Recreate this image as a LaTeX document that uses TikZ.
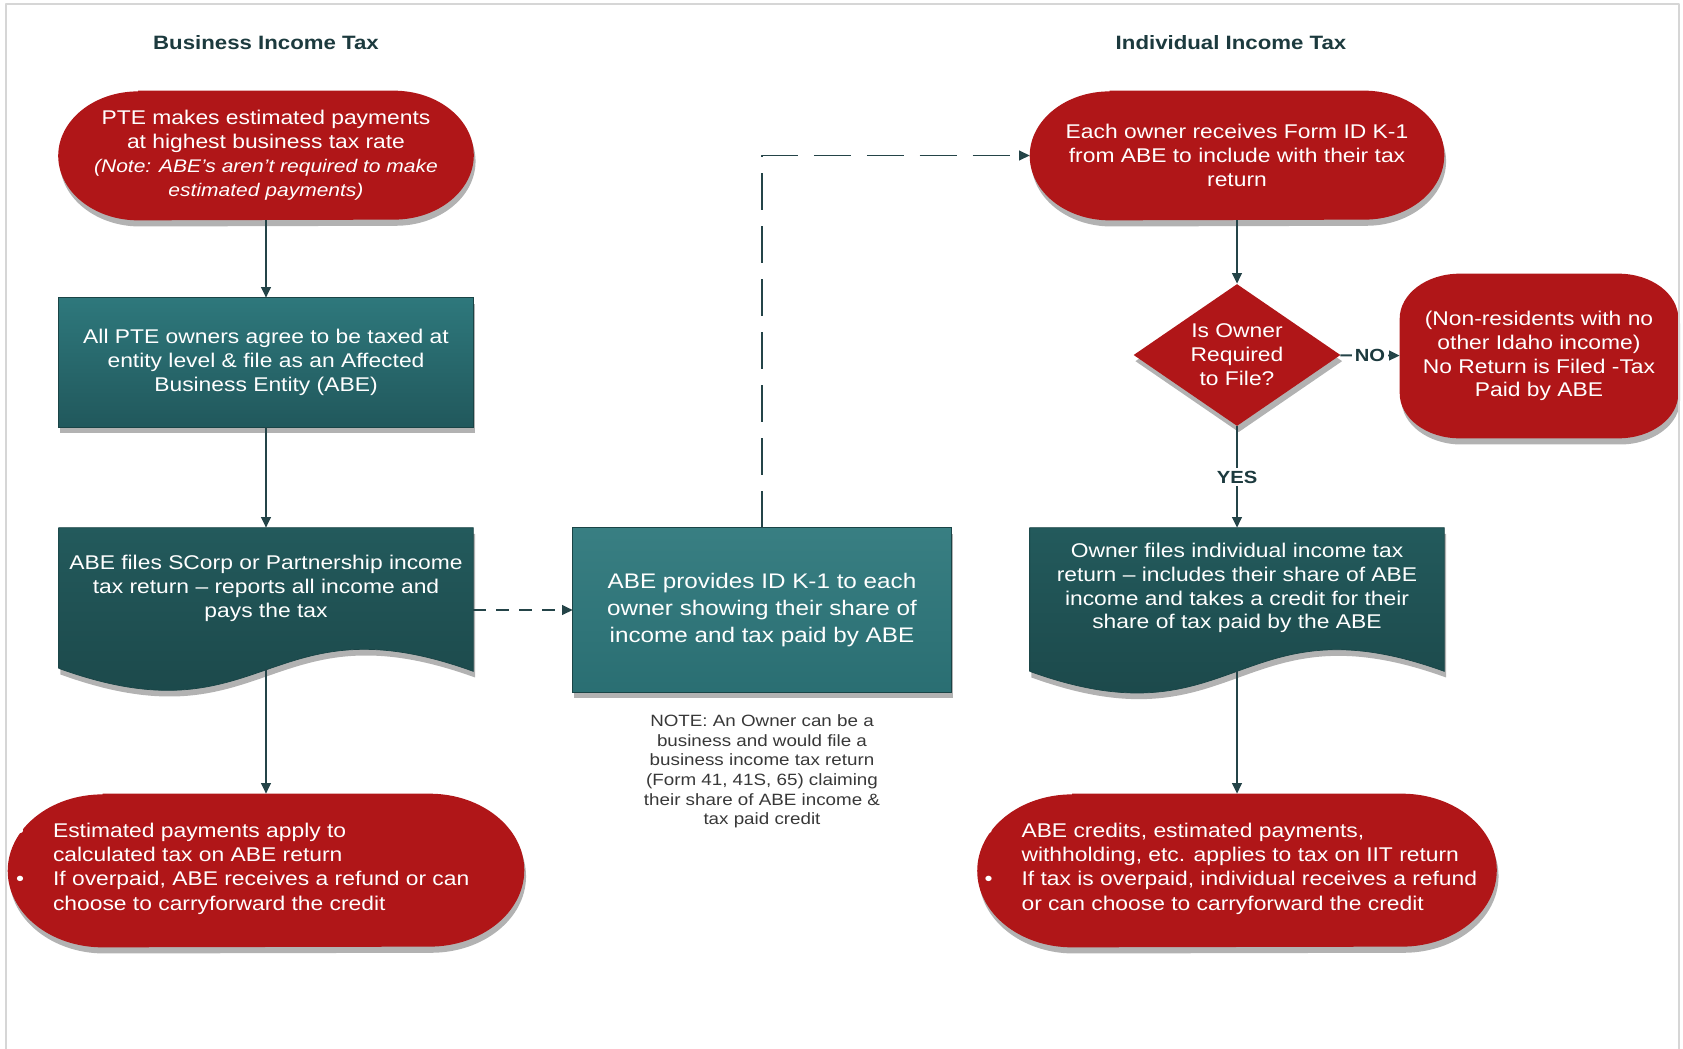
\documentclass[tikz,border=0pt]{standalone}
\usepackage{fontspec}
\setmainfont[FakeStretch=1.15]{Liberation Sans}
\usetikzlibrary{calc,shapes.geometric,shadows,backgrounds,arrows.meta}
\definecolor{redc}{RGB}{176,22,24}
\definecolor{tealtop}{RGB}{46,120,124}
\definecolor{tealbot}{RGB}{33,88,92}
\definecolor{doctop}{RGB}{35,90,92}
\definecolor{docbot}{RGB}{26,68,70}
\definecolor{linec}{RGB}{36,68,72}
\definecolor{headc}{RGB}{28,58,62}
\definecolor{framec}{RGB}{214,214,214}
\tikzset{
  txt/.style={align=center,text=white,inner sep=0pt,font=\fontsize{11.3}{13.6}\selectfont},
  listtxt/.style={align=left,text=white,inner sep=0pt,font=\fontsize{11.3}{13.8}\selectfont},
  notetxt/.style={align=center,text=black!78,inner sep=0pt,font=\fontsize{9.3}{11.2}\selectfont},
  head/.style={text=headc,font=\bfseries\fontsize{11}{13}\selectfont},
  lbl/.style={fill=white,text=headc,inner sep=1.5pt,font=\bfseries\fontsize{10}{12}\selectfont},
  conn/.style={linec,line width=1.1pt},
  dshadow/.style={drop shadow={shadow xshift=1pt,shadow yshift=-3.5pt,opacity=.3,fill=black}}
}
\begin{document}
\begin{tikzpicture}[x=0.02cm,y=0.02cm,>={Triangle[length=6pt,width=5.5pt]},line join=round]
\useasboundingbox (0,0) rectangle (1683,-1048);
% frame
\draw[framec,line width=1.2pt] (6,-1052) -- (6,-4) -- (1679,-4) -- (1679,-1052);

% headings
\node[head] (bizhead) at (266,-43) {Business Income Tax};
\node[head] (indhead) at (1231,-43) {Individual Income Tax};

% business side
\node[txt,minimum width=8.3cm,minimum height=2.58cm] (pte) at (266,-155.5)
  {PTE makes estimated payments\\ at highest business tax rate\\
   {\fontsize{10.4}{13.6}\selectfont\itshape (Note: ABE’s aren’t required to make}\\
   {\fontsize{10.4}{13.6}\selectfont\itshape estimated payments)}};
\node[txt,minimum width=8.28cm,minimum height=2.58cm] (agree) at (266,-362.5)
  {All PTE owners agree to be taxed at\\ entity level \& file as an Affected\\ Business Entity (ABE)};
\node[txt,minimum width=8.28cm,minimum height=2.4cm] (abefiles) at (266,-588)
  {ABE files SCorp or Partnership income\\ tax return – reports all income and\\ pays the tax};
\node[minimum width=10.32cm,minimum height=3.06cm] (estpay) at (266,-870.5) {};
\node[listtxt,anchor=west] (esttxt) at ($(estpay.west)+(45,2)$)
  {\llap{•\hspace{0.58cm}}Estimated payments apply to\\ calculated tax on ABE return\\
   \llap{•\hspace{0.58cm}}If overpaid, ABE receives a refund or can\\ choose to carryforward the credit};

% middle
\node[txt,font=\fontsize{12}{15.2}\selectfont,minimum width=7.56cm,minimum height=3.28cm] (provide) at (762,-610)
  {ABE provides ID K-1 to each\\ owner showing their share of\\ income and tax paid by ABE};
\node[notetxt] (note) at (762,-771.5)
  {NOTE: An Owner can be a\\ business and would file a\\ business income tax return\\
   (Form 41, 41S, 65) claiming\\ their share of ABE income \&\\ tax paid credit};

% individual side
\node[txt,minimum width=8.28cm,minimum height=2.58cm] (owner) at (1237,-155.5)
  {Each owner receives Form ID K-1\\ from ABE to include with their tax\\ return};
\node[txt,diamond,aspect=1.46,fill=redc,dshadow,minimum width=4.14cm,minimum height=2.84cm] (isfile) at (1237,-355)
  {Is Owner\\ Required\\ to File?};
\node[txt,minimum width=5.56cm,minimum height=3.28cm] (nonres) at (1539,-356)
  {(Non-residents with no\\ other Idaho income)\\ No Return is Filed -Tax\\ Paid by ABE};
\node[txt,minimum width=8.28cm,minimum height=2.4cm] (ownfiles) at (1237,-588)
  {Owner files individual income tax\\ return – includes their share of ABE\\
   income and takes a credit for their\\ share of tax paid by the ABE};
\node[minimum width=10.38cm,minimum height=3.06cm] (abecred) at (1237,-870.5) {};
\node[listtxt,anchor=west] (credtxt) at ($(abecred.west)+(44,2)$)
  {\llap{•\hspace{0.58cm}}ABE credits, estimated payments,\\ withholding, etc. applies to tax on IIT return\\
   \llap{•\hspace{0.58cm}}If tax is overpaid, individual receives a refund\\ or can choose to carryforward the credit};

\begin{scope}[on background layer]
  \fill[redc,dshadow] ($(pte.north west)+(80,0)$) -- ($(pte.north east)+(-80,0)$)
    arc[start angle=90,end angle=-90,x radius=1.6cm,y radius=1.29cm]
    -- ($(pte.south west)+(80,0)$)
    arc[start angle=270,end angle=90,x radius=1.6cm,y radius=1.29cm] -- cycle;
  \fill[redc,dshadow] ($(owner.north west)+(80,0)$) -- ($(owner.north east)+(-80,0)$)
    arc[start angle=90,end angle=-90,x radius=1.6cm,y radius=1.29cm]
    -- ($(owner.south west)+(80,0)$)
    arc[start angle=270,end angle=90,x radius=1.6cm,y radius=1.29cm] -- cycle;
  \fill[redc,dshadow] ($(estpay.north west)+(95,0)$) -- ($(estpay.north east)+(-95,0)$)
    arc[start angle=90,end angle=-90,x radius=1.9cm,y radius=1.53cm]
    -- ($(estpay.south west)+(95,0)$)
    arc[start angle=270,end angle=90,x radius=1.9cm,y radius=1.53cm] -- cycle;
  \fill[redc,dshadow] ($(abecred.north west)+(95,0)$) -- ($(abecred.north east)+(-95,0)$)
    arc[start angle=90,end angle=-90,x radius=1.9cm,y radius=1.53cm]
    -- ($(abecred.south west)+(95,0)$)
    arc[start angle=270,end angle=90,x radius=1.9cm,y radius=1.53cm] -- cycle;
  \fill[redc,dshadow] ($(nonres.north west)+(60,0)$) -- ($(nonres.north east)+(-60,0)$)
    arc[start angle=90,end angle=0,x radius=1.2cm,y radius=0.9cm]
    -- ($(nonres.south east)+(0,45)$)
    arc[start angle=0,end angle=-90,x radius=1.2cm,y radius=0.9cm]
    -- ($(nonres.south west)+(60,0)$)
    arc[start angle=270,end angle=180,x radius=1.2cm,y radius=0.9cm]
    -- ($(nonres.north west)+(0,-45)$)
    arc[start angle=180,end angle=90,x radius=1.2cm,y radius=0.9cm] -- cycle;
  \shade[top color=tealtop,bottom color=tealbot,draw=docbot,dshadow]
    (agree.north west) rectangle (agree.south east);
  \shade[top color=tealtop!95!white,bottom color=tealtop!70!tealbot,draw=docbot,dshadow]
    (provide.north west) rectangle (provide.south east);
  \shade[top color=doctop,bottom color=docbot,draw=docbot,dshadow]
    (abefiles.north west) -- ($(abefiles.south west)+(0,-20)$)
    .. controls +(207,-75) and +(-207,75) .. ($(abefiles.south east)+(0,-23)$)
    -- (abefiles.north east) -- cycle;
  \shade[top color=doctop,bottom color=docbot,draw=docbot,dshadow]
    (ownfiles.north west) -- ($(ownfiles.south west)+(0,-23)$)
    .. controls +(207,-75) and +(-207,75) .. ($(ownfiles.south east)+(0,-23)$)
    -- (ownfiles.north east) -- cycle;
\end{scope}

% connectors
\draw[conn,->] (pte) -- (agree);
\draw[conn,->] (agree) -- (abefiles);
\draw[conn,->] ($(abefiles.south)+(0,-21)$) -- (estpay);
\draw[conn,->,dash pattern=on 0.26cm off 0.2cm] (provide.west -| abefiles.east) -- (provide.west);
\draw[conn,->,dash pattern=on 0.74cm off 0.32cm] (provide) |- (owner);
\draw[conn,->] (owner) -- (isfile);
\draw[conn,->] (isfile) -- node[lbl]{NO} (nonres);
\draw[conn,->] (isfile) -- node[lbl]{YES} (ownfiles);
\draw[conn,->] ($(ownfiles.south)+(0,-23)$) -- (abecred);
\end{tikzpicture}
\end{document}
